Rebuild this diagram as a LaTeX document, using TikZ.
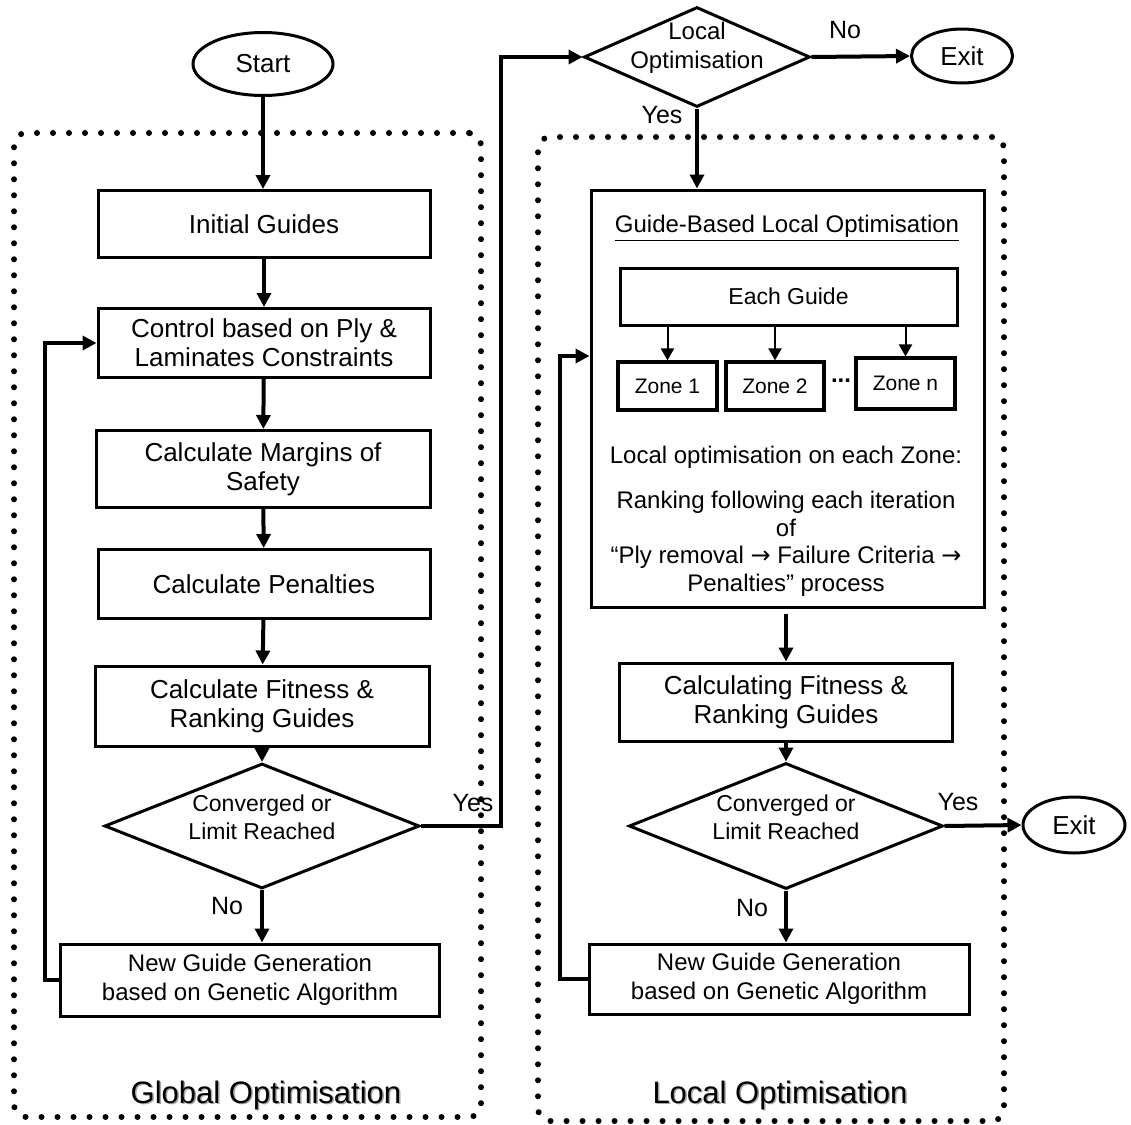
\documentclass[tikz,border=0pt]{standalone}
\usepackage{fontspec}
\setmainfont{Liberation Sans}
\newfontfamily\arrowfont{DejaVu Sans}
\usetikzlibrary{arrows.meta,shapes.geometric}
% text that does not widen its shape
\newcommand{\flattext}[1]{\smash{\makebox[0pt]{\begin{tabular}{@{}c@{}}#1\end{tabular}}}}
\newcommand{\then}{{\arrowfont →}}
\tikzset{
  box/.style       = {draw, line width=1.5pt, align=center, inner sep=2pt,
                      font=\fontsize{13}{14.5}\selectfont},
  zone/.style      = {box, line width=1.6pt, minimum width=49.5pt, minimum height=24pt,
                      font=\fontsize{10.5}{12}\selectfont},
  decide/.style    = {draw, diamond, line width=1.5pt, inner sep=0pt,
                      font=\fontsize{11.5}{14}\selectfont},
  term/.style      = {draw, ellipse, line width=1.5pt, inner sep=0pt,
                      font=\fontsize{13}{14.5}\selectfont},
  dotframe/.style  = {draw, line width=3pt, dash pattern=on 0pt off 8pt,
                      line cap=round, rounded corners=6pt},
  seclabel/.style  = {font=\fontsize{15.5}{18}\selectfont},
  answer/.style    = {font=\fontsize{12.5}{14}\selectfont},
  plain/.style     = {align=center, font=\fontsize{12}{13.75}\selectfont},
  dep/.style       = {-{Triangle[length=7pt,width=7pt]}, line width=2pt},
  thin/.style      = {-{Triangle[length=6pt,width=6.5pt]}, line width=1pt}
}

\begin{document}
\begin{tikzpicture}[x=0.5pt, y=-0.5pt]
  \useasboundingbox (0,0) rectangle (1131,1125);

  % Frames
  \node[dotframe, minimum width=233.5pt, minimum height=492pt] (GlobFrame) at (247.5,625) {};
  \node[dotframe, minimum width=233pt, minimum height=492pt]   (LocFrame)  at (771,629) {};

  % Global optimisation
  \node[term, minimum width=70pt, minimum height=31.5pt] (Start) at (263,64) {Start};
  \node[box, minimum width=166pt, minimum height=33.5pt] (Init) at (264,224) {Initial Guides};
  \node[box, minimum width=166pt, minimum height=34.5pt] (Ctrl) at (264,343) {Control based on Ply \&\\Laminates Constraints};
  \node[box, minimum width=167pt, minimum height=38.5pt] (Marg) at (263,469) {Calculate Margins of\\Safety};
  \node[box, minimum width=166pt, minimum height=34.5pt] (Pen)  at (264,584) {Calculate Penalties};
  \node[box, minimum width=167pt, minimum height=40pt]   (Fit)  at (262,706) {Calculate Fitness \&\\Ranking Guides};
  \node[decide, minimum width=157.5pt, minimum height=62.5pt] (ConvA) at (262,826) {\flattext{Converged or\\Limit Reached}};
  \node[box, minimum width=189.5pt, minimum height=36pt,
        font=\fontsize{12}{14.5}\selectfont] (GenA) at (250,980) {New Guide Generation\\based on Genetic Algorithm};
  \node[answer] (NoA)  at (227,906) {No};
  \node[answer] (YesA) at (473,803) {Yes};

  % Local decision
  \node[decide, minimum width=113pt, minimum height=50pt,
        font=\fontsize{12}{14.5}\selectfont] (LocDec) at (697,57) {\raisebox{2.5pt}{\flattext{Local\\Optimisation}}};
  \node[term, minimum width=50.5pt, minimum height=27pt] (ExitA) at (962,56) {Exit};
  \node[answer] (NoB)  at (845,30)  {No};
  \node[answer] (YesB) at (662,115) {Yes};

  % Guide-based local optimisation
  \node[box, minimum width=196.5pt, minimum height=208.5pt] (GB) at (787.5,398.5) {};
  \node[plain] (GBTitle) at (787,228) {\underline{Guide-Based Local Optimisation}};
  \node[box, minimum width=168.5pt, minimum height=28.5pt,
        font=\fontsize{11.5}{13}\selectfont] (Each) at (788.5,296.5) {Each Guide};
  \node[zone] (ZoneA) at (667.5,386) {Zone 1};
  \node[zone, minimum width=49pt] (ZoneB) at (775,386) {Zone 2};
  \node[font=\fontsize{12}{13}\selectfont\bfseries] (ZoneDots) at (841,381) {...};
  \node[zone, minimum height=25.5pt] (ZoneN) at (905.5,383.5) {Zone n};
  \node[plain] (ZoneText) at (786,457) {Local optimisation on each Zone:};
  \node[plain] (RankText) at (786,544) {Ranking following each iteration\\of\\“Ply removal \then{} Failure Criteria \then\\Penalties” process};

  \node[box, minimum width=166.5pt, minimum height=39pt] (CalcFit) at (786,702) {Calculating Fitness \&\\Ranking Guides};
  \node[decide, minimum width=157pt, minimum height=63pt] (ConvB) at (786,826) {\flattext{Converged or\\Limit Reached}};
  \node[term, minimum width=51pt, minimum height=28pt] (ExitB) at (1074,825) {Exit};
  \node[box, minimum width=190pt, minimum height=35pt,
        font=\fontsize{12}{14.5}\selectfont] (GenB) at (779,979) {New Guide Generation\\based on Genetic Algorithm};
  \node[answer] (YesC) at (958,802) {Yes};
  \node[answer] (NoC)  at (752,908) {No};

  % Frame labels
  \node[seclabel, text=black!35] (GlobShade) at (267.5,1096.5) {Global Optimisation};
  \node[seclabel] (GlobLabel) at (266,1095) {Global Optimisation};
  \node[seclabel, text=black!35] (LocShade) at (781.5,1096.5) {Local Optimisation};
  \node[seclabel] (LocLabel) at (780,1095) {Local Optimisation};

  \coordinate (BackA) at (45,0);
  \coordinate (BackB) at (560,0);
  \coordinate (GBin) at ([yshift=21.25pt]GB.west);

  % Edges
  \draw[dep] (Start) -- (Start |- Init.north);
  \draw[dep] (Init) -- (Ctrl);
  \draw[dep] (Ctrl) -- (Marg);
  \draw[dep] (Marg) -- (Pen);
  \draw[dep] (Pen) -- (Fit);
  \draw[dep] (Fit) -- (ConvA);
  \draw[dep] (ConvA.south) -- (ConvA.south |- GenA.north);
  \draw[dep] (GenA.west) -- (GenA.west -| BackA) |- (Ctrl.west);
  \draw[dep] (ConvA.east) -- ++(80,0) |- (LocDec.west);

  \draw[dep] (LocDec.east) -- (ExitA.west);
  \draw[dep] (LocDec.south) -- (LocDec.south |- GB.north);
  \draw[thin] (ZoneA.north |- Each.south) -- (ZoneA.north);
  \draw[thin] (ZoneB.north |- Each.south) -- (ZoneB.north);
  \draw[thin] (ZoneN.north |- Each.south) -- (ZoneN.north);
  \draw[dep] (CalcFit.north |- GB.south) ++(0,5) -- (CalcFit.north);
  \draw[dep] (CalcFit) -- (ConvB);
  \draw[dep] (ConvB.east) -- (ExitB.west);
  \draw[dep] (ConvB.south) -- (ConvB.south |- GenB.north);
  \draw[dep] (GenB.west) -- (GenB.west -| BackB) |- (GBin);

\end{tikzpicture}
\end{document}
